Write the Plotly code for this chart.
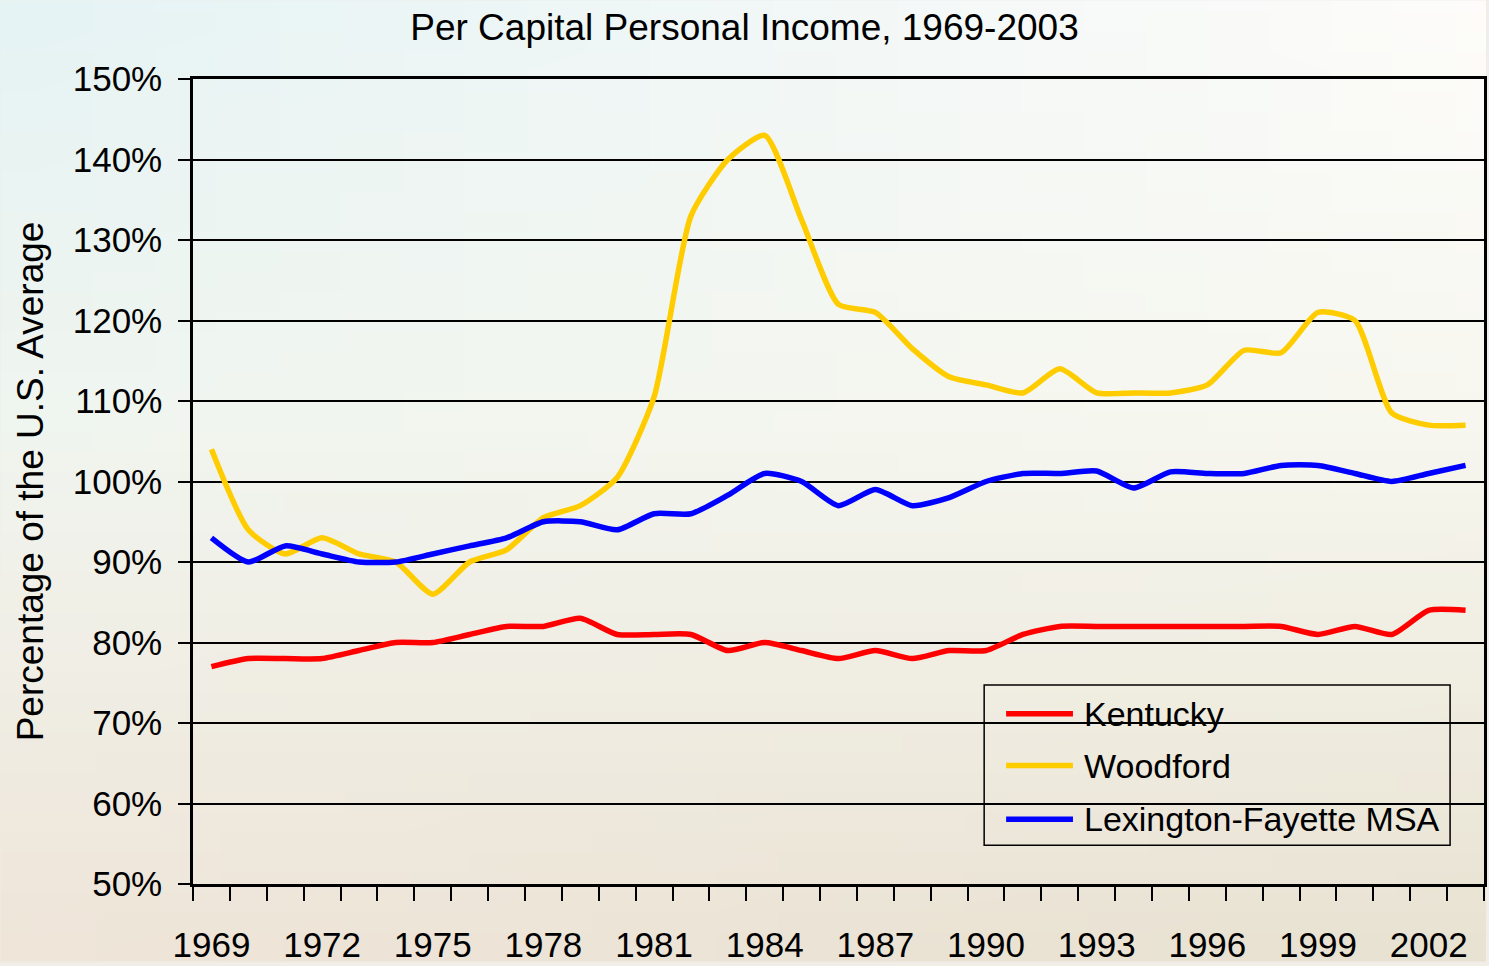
import base64, struct, zlib
import plotly.graph_objects as go

years = list(range(1969, 2004))
kentucky = [77, 78, 78, 78, 79, 80, 80, 81, 82, 82, 83, 81, 81, 81, 79, 80, 79, 78, 79, 78,
            79, 79, 81, 82, 82, 82, 82, 82, 82, 82, 81, 82, 81, 84, 84]
woodford = [104, 94, 91, 93, 91, 90, 86, 90, 91.5, 95.5, 97, 100.5, 110.5, 133, 140, 143, 132.5,
            122, 121, 116.5, 113, 112, 111, 114, 111, 111, 111, 112, 116.3, 116, 121, 120, 108.5,
            107, 107]
lexington = [93, 90, 92, 91, 90, 90, 91, 92, 93, 95, 95, 94, 96, 96, 98.3, 101, 100, 97, 99, 97,
             98, 100, 101, 101, 101.3, 99.2, 101.2, 101, 101, 102, 102, 101, 100, 101, 102]
series_names = ["Kentucky", "Woodford", "Lexington-Fayette MSA"]
series_colors = ["#ff0000", "#ffcc00", "#0000ff"]
label_years = list(range(1969, 2004, 3))
y_ticks = list(range(50, 151, 10))
y_tick_text = [f"{v}%" for v in y_ticks]

W, H = 1489, 966
ML, MR, MT, MB = 193, 2, 79, 78


def gradient_png(w, h):
    def lerp(a, b, t):
        return tuple(a[i] + (b[i] - a[i]) * t for i in range(3))
    tl, tr = (230, 243, 244), (253, 252, 250)
    ml, mr = (240, 245, 239), (247, 247, 239)
    bl, br = (239, 229, 217), (232, 226, 210)
    rows = []
    for y in range(h):
        t = y / (h - 1)
        row = bytearray([0])
        for x in range(w):
            s = x / (w - 1)
            if t < 0.45:
                c = lerp(lerp(tl, tr, s), lerp(ml, mr, s), t / 0.45)
            else:
                c = lerp(lerp(ml, mr, s), lerp(bl, br, s), (t - 0.45) / 0.55)
            row += bytes(int(round(v)) for v in c)
        rows.append(bytes(row))
    raw = b"".join(rows)

    def chunk(tag, data):
        return struct.pack(">I", len(data)) + tag + data + struct.pack(">I", zlib.crc32(tag + data) & 0xffffffff)
    png = b"\x89PNG\r\n\x1a\n" + chunk(b"IHDR", struct.pack(">IIBBBBB", w, h, 8, 2, 0, 0, 0)) \
        + chunk(b"IDAT", zlib.compress(raw, 9)) + chunk(b"IEND", b"")
    return "data:image/png;base64," + base64.b64encode(png).decode()


font_family = "Liberation Sans, Arial, sans-serif"
pw, ph = W - ML - MR, H - MT - MB


def px_x(x):
    return (x - ML) / pw


def px_y(y):
    return (H - MB - y) / ph


fig = go.Figure()
for name, vals, color in zip(series_names, [kentucky, woodford, lexington], series_colors):
    fig.add_trace(go.Scatter(x=years, y=vals, name=name, mode="lines", showlegend=False,
                             line=dict(color=color, width=5.5, shape="spline", smoothing=0.6)))

# legend drawn as a box with sample lines and text labels
shapes = [dict(type="rect", xref="paper", yref="paper", x0=px_x(986), x1=px_x(1453),
               y0=px_y(849), y1=px_y(688), line=dict(color="black", width=1.5),
               fillcolor="rgba(0,0,0,0)")]
annotations = []
for i, (name, color) in enumerate(zip(series_names, series_colors)):
    yy = [717, 769, 823][i]
    shapes.append(dict(type="line", xref="paper", yref="paper", x0=px_x(1008), x1=px_x(1075),
                       y0=px_y(yy), y1=px_y(yy), line=dict(color=color, width=5.5)))
    annotations.append(dict(text=name, xref="paper", yref="paper", x=px_x(1084), y=px_y(yy),
                            xanchor="left", yanchor="middle", showarrow=False,
                            font=dict(size=34, family=font_family, color="black")))

fig.update_layout(
    width=W, height=H,
    margin=dict(l=ML, r=MR, t=MT, b=MB),
    paper_bgcolor="#f0eee6",
    plot_bgcolor="rgba(0,0,0,0)",
    font=dict(family=font_family, color="black"),
    title=dict(text="Per Capital Personal Income, 1969-2003", x=0.5, xanchor="center",
               y=1 - 27 / H, yanchor="middle", font=dict(size=37, family=font_family)),
    showlegend=False,
    shapes=shapes,
    annotations=annotations,
    images=[dict(source=gradient_png(24, 48), xref="paper", yref="paper",
                 x=-ML / pw, y=1 + MT / ph, sizex=W / pw, sizey=H / ph,
                 xanchor="left", yanchor="top", sizing="stretch", layer="below")],
)

fig.update_xaxes(range=[1968.5, 2003.5], tickvals=label_years, ticktext=[str(y) for y in label_years],
                 ticks="outside", ticklen=14, tickcolor="rgba(0,0,0,0)", ticklabelstandoff=14,
                 showgrid=False, zeroline=False,
                 showline=True, linecolor="black", linewidth=2.5, mirror=True,
                 tickfont=dict(size=35, family=font_family),
                 minor=dict(tick0=1968.5, dtick=1, ticks="outside", ticklen=14, tickwidth=2,
                            tickcolor="black", showgrid=False))
fig.update_yaxes(range=[50, 150], tickvals=y_ticks, ticktext=y_tick_text,
                 ticks="outside", ticklen=12, tickwidth=2, tickcolor="black", ticklabelstandoff=9,
                 showgrid=True, gridcolor="black", gridwidth=2, zeroline=False,
                 showline=True, linecolor="black", linewidth=2.5, mirror=True,
                 tickfont=dict(size=35, family=font_family),
                 title=dict(text="Percentage of the U.S. Average", font=dict(size=37, family=font_family),
                            standoff=18))

fig.write_html("out.html", config={"displayModeBar": False},
               post_script="document.body.style.margin='0px';document.body.style.overflow='hidden';")
